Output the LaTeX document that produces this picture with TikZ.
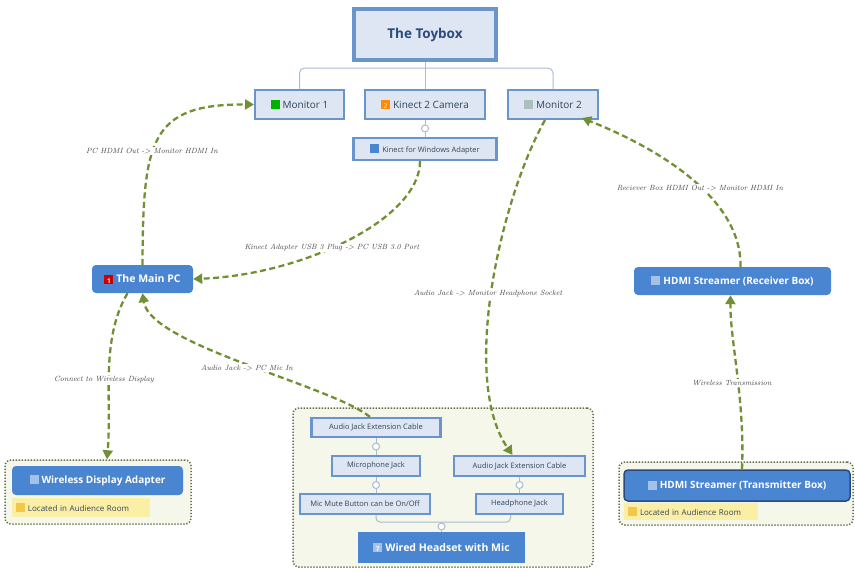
\documentclass[tikz,border=0pt]{standalone}
\usepackage{fontspec}
\newfontfamily\nf{Open Sans}
\usetikzlibrary{arrows.meta}
\definecolor{bbord}{HTML}{6A94CC}
\definecolor{bfill}{HTML}{DDE6F2}
\definecolor{btext}{HTML}{34445A}
\definecolor{tbtext}{HTML}{2A4B7C}
\definecolor{nblue}{HTML}{4A85D1}
\definecolor{olive}{HTML}{718F35}
\definecolor{gfill}{HTML}{F4F7EA}
\definecolor{gbord}{HTML}{5F6E48}
\definecolor{nfill}{HTML}{FBEFA6}
\definecolor{nicon}{HTML}{F3C84A}
\definecolor{treec}{HTML}{A9BCD4}
\definecolor{labc}{HTML}{444444}
\newcommand\ico[2]{\raisebox{-0.5pt}{\setlength\fboxsep{0pt}\colorbox{#1}{\makebox[9pt]{\rule[-0.5pt]{0pt}{9pt}\fontsize{6.5}{6.5}\selectfont\textcolor{white}{#2}}}}\hspace{3pt}}
\tikzset{
  lbox/.style={draw=bbord, line width=2pt, fill=bfill, text=btext, inner sep=0pt,
    font=\nf\fontsize{10}{12}\selectfont},
  sbox/.style={lbox, line width=2.2pt, font=\nf\fontsize{7.5}{9}\selectfont, minimum height=20pt},
  bbox/.style={fill=nblue, rounded corners=4pt, text=white, inner sep=0pt,
    font=\nf\bfseries\fontsize{10.5}{12}\selectfont},
  grp/.style={draw=gbord, fill=gfill, line width=1.5pt, dash pattern=on 1.3pt off 1.7pt, rounded corners=6pt},
  note/.style={fill=nfill, inner sep=0pt, text=btext, font=\nf\fontsize{8}{9}\selectfont, align=left},
  tree/.style={draw=treec, line width=1pt},
  circ/.style={circle, draw=treec, fill=white, line width=1pt, minimum size=7pt, inner sep=0pt},
  conn/.style={draw=olive, line width=2.3pt, dash pattern=on 6pt off 3.5pt, -{Triangle[length=9pt,width=10pt]}},
  lab/.style={fill=white, inner sep=1pt, text=labc, font=\itshape\fontsize{7.5}{8}\selectfont},
}
\begin{document}
\begin{tikzpicture}[x=1pt,y=-1pt]
\useasboundingbox (0,0) rectangle (855,571);
% groups
\node[grp, minimum width=186pt, minimum height=64pt] (wgrp) at (98,492) {};
\node[grp, minimum width=300pt, minimum height=159pt] (hgrp) at (443,487.5) {};
\node[grp, minimum width=234pt, minimum height=63pt] (tgrp) at (736,493.5) {};
% top
\node[lbox, line width=3.5pt, minimum width=142pt, minimum height=51pt, text=tbtext,
  font=\nf\bfseries\fontsize{13.5}{15}\selectfont] (toy) at (425,34.5) {The Toybox};
\node[lbox, minimum width=89pt, minimum height=29pt] (mon1) at (299.5,104.5) {\ico{green!70!black}{}Monitor 1};
\node[lbox, minimum width=120pt, minimum height=29pt] (kin) at (425,104.5) {\ico{orange!90!yellow}{2}Kinect 2 Camera};
\node[lbox, minimum width=90pt, minimum height=29pt] (mon2) at (553,104.5) {\ico{teal!30!gray!50}{}Monitor 2};
\node[sbox, minimum width=143pt, minimum height=22pt] (adp) at (425,149) {\ico{nblue}{}Kinect for Windows Adapter};
\coordinate (tj) at (425,68);
\draw[tree, rounded corners=5pt] (mon1.north) -- (mon1.north |- tj) -- (mon2.north |- tj) -- (mon2.north);
\draw[tree] (toy.south) -- (kin.north);
\draw[tree] (kin.south) -- node[circ] (c0) {} (adp.north);
% blue nodes
\node[bbox, minimum width=101pt, minimum height=28pt] (pc) at (142.5,279) {\ico{red!80!black}{1}The Main PC};
\node[bbox, minimum width=197pt, minimum height=28pt, font=\nf\bfseries\fontsize{10}{12}\selectfont] (rcv) at (732.5,281) {\ico{nblue!50!white}{}HDMI Streamer (Receiver Box)};
\node[bbox, minimum width=171pt, minimum height=29pt, font=\nf\bfseries\fontsize{10}{12}\selectfont] (wda) at (97.5,480.5) {\ico{nblue!50!white}{}Wireless Display Adapter};
\node[note, minimum width=138pt, minimum height=19pt, text width=130pt] (wnote) at (81,507.5) {\ico{nicon}{}Located in Audience Room};
\node[bbox, draw=tbtext, line width=1.5pt, minimum width=226pt, minimum height=31pt, font=\nf\bfseries\fontsize{10}{12}\selectfont] (tx) at (737,485.5) {\ico{nblue!50!white}{}HDMI Streamer (Transmitter Box)};
\node[note, minimum width=134pt, minimum height=17pt, text width=126pt] (tnote) at (691,511.5) {\ico{nicon}{}Located in Audience Room};
% headset group
\node[sbox, minimum width=129pt, minimum height=19pt] (ajl) at (376,427.5) {Audio Jack Extension Cable};
\node[sbox, minimum width=88pt] (mic) at (376,466) {Microphone Jack};
\node[sbox, minimum width=131pt] (ajr) at (519.5,466) {Audio Jack Extension Cable};
\node[sbox, minimum width=130pt] (mute) at (365,504) {Mic Mute Button can be On/Off};
\node[sbox, minimum width=87pt] (hp) at (519.5,504) {Headphone Jack};
\node[bbox, rounded corners=0pt, minimum width=167pt, minimum height=31pt] (hs) at (441.5,547.5) {\ico{nblue!50!white}{7}Wired Headset with Mic};
\draw[tree] (ajl.south) -- node[circ] (c1) {} (mic.north);
\draw[tree] (mic.south) -- node[circ] (c2) {} (mic.south |- mute.north);
\draw[tree] (ajr.south) -- node[circ] (c3) {} (hp.north);
\coordinate (hj) at (441.5,522);
\draw[tree, rounded corners=4pt] (mic.south |- mute.south) -- (mic.south |- hj) -- ([xshift=-9pt]hp.south |- hj) -- ([xshift=-9pt]hp.south);
\draw[tree] (hj) -- node[circ, pos=0.45] (c4) {} (hs.north);
% connectors
\draw[conn] (pc.north) .. controls (143,140) and (150,104) .. (mon1.west);
\draw[conn] ([xshift=-5pt]adp.south) .. controls (420,220) and (300,275) .. (pc.east);
\draw[conn] ([xshift=-6pt]ajl.north) .. controls (330,385) and (150,345) .. (pc.south);
\draw[conn] ([xshift=-15pt]pc.south) .. controls (100,340) and (112,400) .. ([xshift=9pt]wgrp.north);
\draw[conn] ([xshift=-8pt]mon2.south) .. controls (500,200) and (460,380) .. ([xshift=-7pt]ajr.north);
\draw[conn] ([xshift=8pt]rcv.north) .. controls (742,195) and (650,145) .. ([xshift=29pt,yshift=2pt]mon2.south);
\draw[conn] ([xshift=5pt]tx.north) .. controls (745,400) and (730,340) .. ([xshift=-2pt]rcv.south);
% labels
\node[lab] (l1) at (152,151) {PC HDMI Out -> Monitor HDMI In};
\node[lab] (l2) at (332,248) {Kinect Adapter USB 3 Plug -> PC USB 3.0 Port};
\node[lab] (l3) at (247,368) {Audio Jack -> PC Mic In};
\node[lab] (l4) at (104,380) {Connect to Wireless Display};
\node[lab] (l5) at (488,294) {Audio Jack -> Monitor Headphone Socket};
\node[lab] (l6) at (700,188) {Reciever Box HDMI Out -> Monitor HDMI In};
\node[lab] (l7) at (732,383) {Wireless Transmission};
\end{tikzpicture}
\end{document}
